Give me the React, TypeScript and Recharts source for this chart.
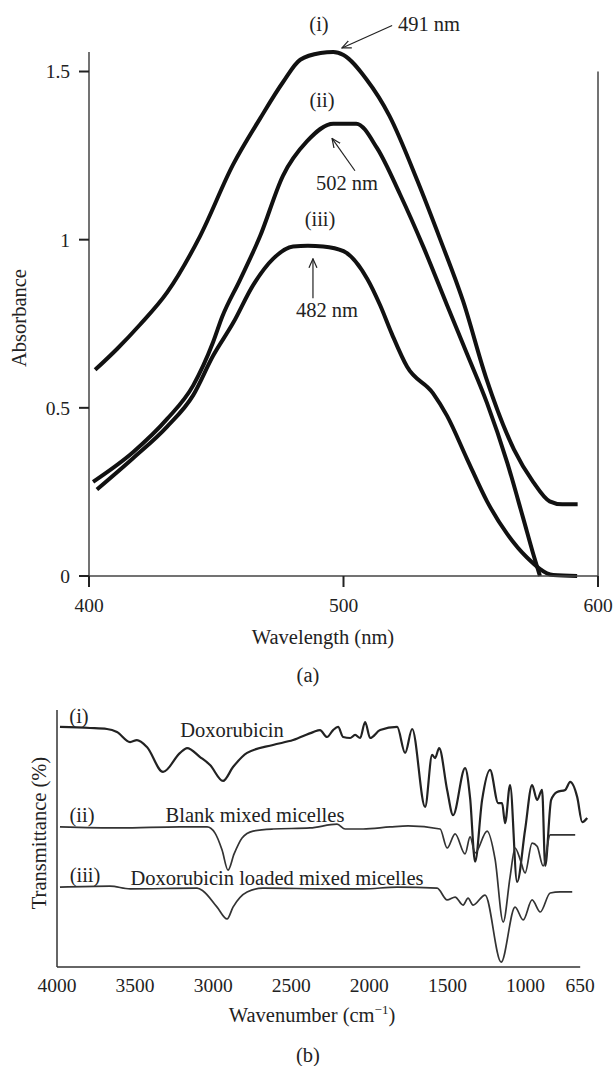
import { LineChart, Line, XAxis, YAxis, ReferenceLine } from 'recharts';

// ---- (a) absorbance spectra ----
const wavelengthI = [402.4, 411, 420, 430.7, 443.6, 456.6, 467.2, 476.2, 483, 491, 496, 500, 509, 518, 529, 538, 547, 556, 567, 574.5, 581, 586, 592];
const absorbanceI = [0.613, 0.675, 0.747, 0.843, 1.01, 1.223, 1.36, 1.468, 1.535, 1.555, 1.558, 1.549, 1.477, 1.369, 1.176, 1.001, 0.817, 0.59, 0.376, 0.28, 0.222, 0.213, 0.213];

const wavelengthII = [401.6, 417.3, 430.7, 440.9, 448.7, 452.3, 459.3, 467.2, 476.2, 485.7, 496, 505, 513.2, 522.2, 531.3, 540.7, 548.6, 556.4, 564.3, 570.6, 574.5, 577.2];
const absorbanceII = [0.28, 0.368, 0.467, 0.566, 0.694, 0.77, 0.88, 1.01, 1.19, 1.293, 1.345, 1.345, 1.272, 1.135, 0.98, 0.805, 0.659, 0.514, 0.338, 0.172, 0.067, 0.0];

const wavelengthIII = [403.1, 417.3, 430.7, 440.9, 448.7, 456.6, 464.5, 472.3, 480.2, 486, 492, 500, 509.3, 514.4, 519, 525, 535.2, 540.7, 548.6, 556.4, 564.3, 572.1, 582.4, 591.8];
const absorbanceIII = [0.257, 0.35, 0.444, 0.537, 0.654, 0.752, 0.865, 0.943, 0.98, 0.982, 0.98, 0.966, 0.884, 0.805, 0.72, 0.622, 0.543, 0.476, 0.347, 0.222, 0.125, 0.055, 0.003, 0.0];

const absTicks = [0, 0.5, 1, 1.5];
const wlTicks = [400, 500, 600];

// ---- (b) FTIR spectra (transmittance, arbitrary offset units) ----
const wnDox = [3981, 3789, 3680, 3616, 3532, 3488, 3424, 3321, 3212, 3167, 3084, 3020, 2937, 2873, 2783, 2617, 2488, 2360, 2316, 2271, 2232, 2200, 2168, 2123, 2091, 2059, 2027, 1995, 1931, 1822, 1771, 1726, 1643, 1598, 1579, 1553, 1502, 1464, 1387, 1355, 1323, 1278, 1227, 1175, 1150, 1131, 1099, 1054, 1003, 958, 926, 894, 874, 836, 798, 746, 714, 669, 637, 605];
const tDox = [93.4, 93.0, 92.6, 91.4, 87.5, 88.3, 85.6, 75.9, 83.3, 85.2, 81.7, 78.6, 72.4, 77.8, 83.3, 86.4, 88.3, 91.4, 92.2, 89.5, 92.2, 93.4, 89.5, 89.1, 90.3, 89.1, 95.3, 89.1, 92.2, 93.4, 83.3, 92.6, 62.3, 82.5, 81.3, 85.2, 68.9, 59.1, 77.4, 65.8, 41.0, 65.0, 76.7, 63.8, 63.8, 56.0, 70.8, 33.1, 53.3, 70.8, 65.0, 68.9, 39.3, 65.0, 68.1, 68.9, 72.0, 66.1, 56.4, 58.0];

const wnBlank = [3981, 3597, 3212, 3039, 2988, 2943, 2905, 2866, 2815, 2745, 2617, 2380, 2207, 2155, 2040, 1867, 1752, 1547, 1502, 1451, 1387, 1355, 1323, 1246, 1195, 1143, 1099, 1067, 1035, 1003, 958, 926, 887, 842, 778, 682];
const tBlank = [54.5, 54.1, 54.5, 54.5, 52.1, 45.5, 37.7, 44.0, 50.2, 52.9, 53.7, 54.1, 55.6, 53.7, 53.7, 54.5, 54.9, 53.7, 46.3, 51.8, 44.0, 50.6, 44.4, 52.9, 42.0, 17.5, 35.0, 46.3, 42.0, 36.6, 48.2, 47.0, 39.3, 51.4, 51.4, 51.4];

const wnLoaded = [3981, 3661, 3532, 3103, 3065, 2975, 2911, 2873, 2783, 2681, 2251, 2040, 1822, 1566, 1502, 1451, 1400, 1368, 1336, 1259, 1156, 1067, 1015, 958, 906, 842, 778, 701];
const tLoaded = [31.1, 31.5, 30.4, 30.7, 29.6, 23.3, 18.7, 23.3, 29.2, 30.7, 30.4, 30.4, 31.1, 30.7, 26.1, 27.2, 24.1, 26.8, 24.1, 28.0, 1.9, 23.3, 18.3, 26.1, 21.4, 28.8, 29.2, 29.2];

const wnTicks = [4000, 3500, 3000, 2500, 2000, 1500, 1000, 650];

const zip = (xs: number[], ys: number[], xk: string, yk: string) =>
    xs.map((x, i) => ({ [xk]: x, [yk]: ys[i] }));

const SERIF = '"Liberation Serif", "DejaVu Serif", serif';
const INK = '#222';

function Txt({ x, y, size = 20.5, rotate = false, children }: { x: number; y: number; size?: number; rotate?: boolean; children: any }) {
    return (
        <div
            style={{
                position: 'absolute',
                left: x,
                top: y,
                transform: `translate(-50%, -50%)${rotate ? ' rotate(-90deg)' : ''}`,
                fontFamily: SERIF,
                fontSize: size,
                color: INK,
                whiteSpace: 'nowrap',
                lineHeight: 1,
            }}
        >
            {children}
        </div>
    );
}

const tickStyle = { fontSize: 19.5, fill: INK, fontFamily: SERIF };
const arrowProps = { stroke: INK, strokeWidth: 1.2, markerEnd: 'url(#arrowHead)', ifOverflow: 'visible' as const, yAxisId: 'l' };

export default function App() {
    const specI = zip(wavelengthI, absorbanceI, 'wl', 'a');
    const specII = zip(wavelengthII, absorbanceII, 'wl', 'a');
    const specIII = zip(wavelengthIII, absorbanceIII, 'wl', 'a');

    const dox = zip(wnDox, tDox, 'wn', 't');
    const blank = zip(wnBlank, tBlank, 'wn', 't');
    const loaded = zip(wnLoaded, tLoaded, 'wn', 't');

    return (
        <div style={{ position: 'absolute', left: 0, top: 0, width: 616, height: 1066, background: '#fff', overflow: 'hidden' }}>
            <svg width={0} height={0} style={{ position: 'absolute' }}>
                <defs>
                    <marker id="arrowHead" viewBox="0 0 10 10" refX="9" refY="5" markerWidth="10" markerHeight="10" orient="auto" markerUnits="userSpaceOnUse">
                        <path d="M0,1 L9,5 L0,9" fill="none" stroke={INK} strokeWidth={1.2} />
                    </marker>
                </defs>
            </svg>

            {/* (a) absorbance */}
            <div style={{ position: 'absolute', left: 0, top: 0 }}>
                <LineChart width={616} height={700} margin={{ top: 52, right: 0, bottom: 84, left: 0 }}>
                    <XAxis
                        type="number"
                        dataKey="wl"
                        domain={[400, 600]}
                        ticks={wlTicks}
                        height={40}
                        tickSize={11}
                        tickMargin={11}
                        tick={tickStyle}
                        axisLine={{ stroke: '#444', strokeWidth: 1.5 }}
                        tickLine={{ stroke: INK, strokeWidth: 2 }}
                        interval={0}
                    />
                    <YAxis
                        yAxisId="l"
                        type="number"
                        domain={[0, 1.53]}
                        ticks={absTicks}
                        width={89}
                        tickSize={10}
                        tickMargin={9}
                        tick={tickStyle}
                        axisLine={{ stroke: '#444', strokeWidth: 1.5 }}
                        tickLine={{ stroke: INK, strokeWidth: 2 }}
                        interval={0}
                    />
                    <YAxis
                        yAxisId="r"
                        orientation="right"
                        type="number"
                        domain={[0, 1.53]}
                        ticks={absTicks}
                        width={18}
                        tickSize={11}
                        tick={false}
                        axisLine={false}
                        tickLine={{ stroke: INK, strokeWidth: 2 }}
                        interval={0}
                    />
                    <ReferenceLine yAxisId="l" segment={[{ x: 600, y: 0 }, { x: 600, y: 1.5 }]} stroke="#444" strokeWidth={1.5} />
                    <Line yAxisId="l" data={specI} dataKey="a" type="monotone" stroke="#111" strokeWidth={4} dot={false} isAnimationActive={false} />
                    <Line yAxisId="l" data={specII} dataKey="a" type="monotone" stroke="#111" strokeWidth={4} dot={false} isAnimationActive={false} />
                    <Line yAxisId="l" data={specIII} dataKey="a" type="monotone" stroke="#111" strokeWidth={4} dot={false} isAnimationActive={false} />
                    <ReferenceLine {...arrowProps} segment={[{ x: 519.1, y: 1.637 }, { x: 499.4, y: 1.57 }]} />
                    <ReferenceLine {...arrowProps} segment={[{ x: 504.5, y: 1.205 }, { x: 495.5, y: 1.301 }]} />
                    <ReferenceLine {...arrowProps} segment={[{ x: 488, y: 0.826 }, { x: 488, y: 0.943 }]} />
                </LineChart>
            </div>

            <Txt x={319} y={24}>(i)</Txt>
            <Txt x={429} y={24}>491 nm</Txt>
            <Txt x={322} y={100}>(ii)</Txt>
            <Txt x={347} y={183}>502 nm</Txt>
            <Txt x={320} y={219}>(iii)</Txt>
            <Txt x={327} y={310}>482 nm</Txt>
            <Txt x={19} y={318} rotate>Absorbance</Txt>
            <Txt x={323} y={637}>Wavelength (nm)</Txt>
            <Txt x={308} y={675}>(a)</Txt>

            {/* (b) FTIR */}
            <div style={{ position: 'absolute', left: 0, top: 700 }}>
                <LineChart width={616} height={366} margin={{ top: 10, right: 28, bottom: 69, left: 0 }}>
                    <XAxis
                        type="number"
                        dataKey="wn"
                        domain={[600, 4000]}
                        reversed
                        ticks={wnTicks}
                        height={30}
                        tickSize={0}
                        tickMargin={11}
                        tick={tickStyle}
                        axisLine={false}
                        tickLine={false}
                        interval={0}
                    />
                    <YAxis
                        type="number"
                        domain={[0, 100]}
                        width={57}
                        tick={false}
                        tickLine={false}
                        axisLine={{ stroke: '#333', strokeWidth: 1.5 }}
                    />
                    <ReferenceLine segment={[{ x: 4000, y: 0 }, { x: 650, y: 0 }]} stroke="#333" strokeWidth={1.5} />
                    <Line data={dox} dataKey="t" type="monotone" stroke="#222" strokeWidth={2.2} dot={false} isAnimationActive={false} />
                    <Line data={blank} dataKey="t" type="monotone" stroke="#333" strokeWidth={1.7} dot={false} isAnimationActive={false} />
                    <Line data={loaded} dataKey="t" type="monotone" stroke="#333" strokeWidth={1.7} dot={false} isAnimationActive={false} />
                </LineChart>
            </div>

            <Txt x={79} y={716}>(i)</Txt>
            <Txt x={232} y={730}>Doxorubicin</Txt>
            <Txt x={82} y={815}>(ii)</Txt>
            <Txt x={255} y={815}>Blank mixed micelles</Txt>
            <Txt x={85} y={875}>(iii)</Txt>
            <Txt x={277} y={878}>Doxorubicin loaded mixed micelles</Txt>
            <Txt x={39} y={833} rotate>Transmittance (%)</Txt>
            <Txt x={312} y={1015}>
                Wavenumber (cm<sup style={{ fontSize: 13, verticalAlign: 'super', lineHeight: 0 }}>−1</sup>)
            </Txt>
            <Txt x={308} y={1055}>(b)</Txt>
        </div>
    );
}
